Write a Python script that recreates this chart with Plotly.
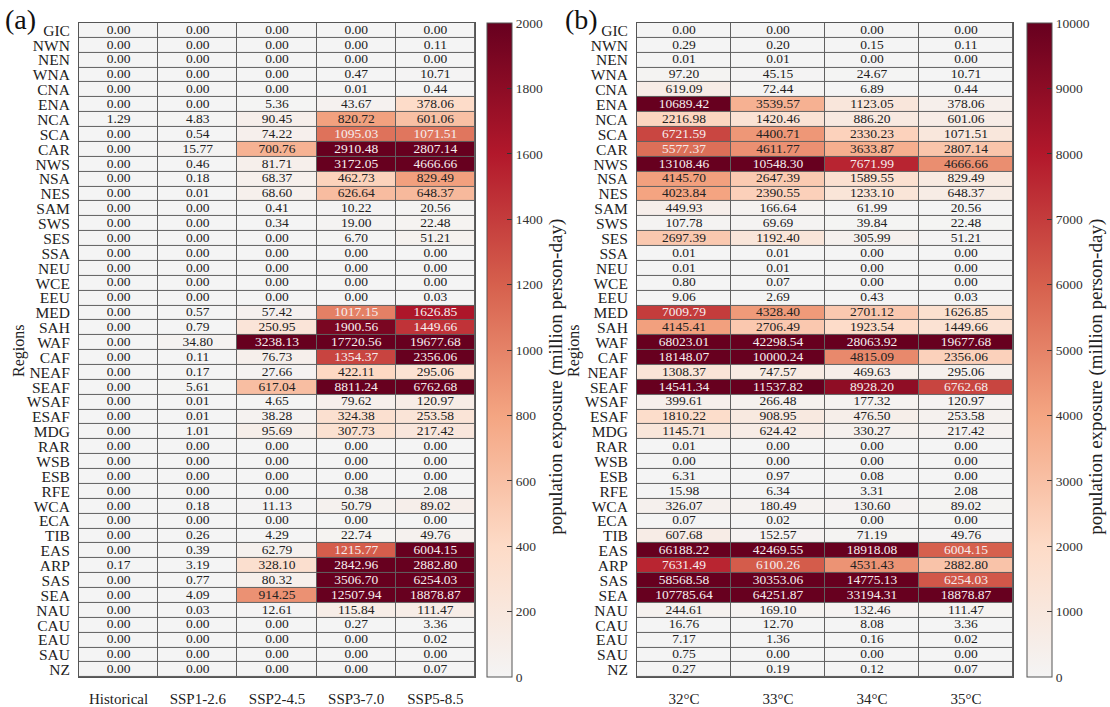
import plotly.graph_objects as go

regions = ["GIC", "NWN", "NEN", "WNA", "CNA", "ENA", "NCA", "SCA", "CAR", "NWS",
           "NSA", "NES", "SAM", "SWS", "SES", "SSA", "NEU", "WCE", "EEU", "MED",
           "SAH", "WAF", "CAF", "NEAF", "SEAF", "WSAF", "ESAF", "MDG", "RAR", "WSB",
           "ESB", "RFE", "WCA", "ECA", "TIB", "EAS", "ARP", "SAS", "SEA", "NAU",
           "CAU", "EAU", "SAU", "NZ"]

scenarios = ["Historical", "SSP1-2.6", "SSP2-4.5", "SSP3-7.0", "SSP5-8.5"]
thresholds = ["32°C", "33°C", "34°C", "35°C"]

# (a) exposure by scenario, one list per scenario column
historical = [0, 0, 0, 0, 0, 0, 1.29, 0, 0, 0,
              0, 0, 0, 0, 0, 0, 0, 0, 0, 0,
              0, 0, 0, 0, 0, 0, 0, 0, 0, 0,
              0, 0, 0, 0, 0, 0, 0.17, 0, 0, 0,
              0, 0, 0, 0]
ssp126 = [0, 0, 0, 0, 0, 0, 4.83, 0.54, 15.77, 0.46,
          0.18, 0.01, 0, 0, 0, 0, 0, 0, 0, 0.57,
          0.79, 34.80, 0.11, 0.17, 5.61, 0.01, 0.01, 1.01, 0, 0,
          0, 0, 0.18, 0, 0.26, 0.39, 3.19, 0.77, 4.09, 0.03,
          0, 0, 0, 0]
ssp245 = [0, 0, 0, 0, 0, 5.36, 90.45, 74.22, 700.76, 81.71,
          68.37, 68.60, 0.41, 0.34, 0, 0, 0, 0, 0, 57.42,
          250.95, 3238.13, 76.73, 27.66, 617.04, 4.65, 38.28, 95.69, 0, 0,
          0, 0, 11.13, 0, 4.29, 62.79, 328.10, 80.32, 914.25, 12.61,
          0, 0, 0, 0]
ssp370 = [0, 0, 0, 0.47, 0.01, 43.67, 820.72, 1095.03, 2910.48, 3172.05,
          462.73, 626.64, 10.22, 19.00, 6.70, 0, 0, 0, 0, 1017.15,
          1900.56, 17720.56, 1354.37, 422.11, 8811.24, 79.62, 324.38, 307.73, 0, 0,
          0, 0.38, 50.79, 0, 22.74, 1215.77, 2842.96, 3506.70, 12507.94, 115.84,
          0.27, 0, 0, 0]
ssp585 = [0, 0.11, 0, 10.71, 0.44, 378.06, 601.06, 1071.51, 2807.14, 4666.66,
          829.49, 648.37, 20.56, 22.48, 51.21, 0, 0, 0, 0.03, 1626.85,
          1449.66, 19677.68, 2356.06, 295.06, 6762.68, 120.97, 253.58, 217.42, 0, 0,
          0, 2.08, 89.02, 0, 49.76, 6004.15, 2882.80, 6254.03, 18878.87, 111.47,
          3.36, 0.02, 0, 0.07]

# (b) exposure by temperature threshold
t32 = [0, 0.29, 0.01, 97.20, 619.09, 10689.42, 2216.98, 6721.59, 5577.37, 13108.46,
       4145.70, 4023.84, 449.93, 107.78, 2697.39, 0.01, 0.01, 0.80, 9.06, 7009.79,
       4145.41, 68023.01, 18148.07, 1308.37, 14541.34, 399.61, 1810.22, 1145.71, 0.01, 0,
       6.31, 15.98, 326.07, 0.07, 607.68, 66188.22, 7631.49, 58568.58, 107785.64, 244.61,
       16.76, 7.17, 0.75, 0.27]
t33 = [0, 0.20, 0.01, 45.15, 72.44, 3539.57, 1420.46, 4400.71, 4611.77, 10548.30,
       2647.39, 2390.55, 166.64, 69.69, 1192.40, 0.01, 0.01, 0.07, 2.69, 4328.40,
       2706.49, 42298.54, 10000.24, 747.57, 11537.82, 266.48, 908.95, 624.42, 0, 0,
       0.97, 6.34, 180.49, 0.02, 152.57, 42469.55, 6100.26, 30353.06, 64251.87, 169.10,
       12.70, 1.36, 0, 0.19]
t34 = [0, 0.15, 0, 24.67, 6.89, 1123.05, 886.20, 2330.23, 3633.87, 7671.99,
       1589.55, 1233.10, 61.99, 39.84, 305.99, 0, 0, 0, 0.43, 2701.12,
       1923.54, 28063.92, 4815.09, 469.63, 8928.20, 177.32, 476.50, 330.27, 0, 0,
       0.08, 3.31, 130.60, 0, 71.19, 18918.08, 4531.43, 14775.13, 33194.31, 132.46,
       8.08, 0.16, 0, 0.12]
t35 = [0, 0.11, 0, 10.71, 0.44, 378.06, 601.06, 1071.51, 2807.14, 4666.66,
       829.49, 648.37, 20.56, 22.48, 51.21, 0, 0, 0, 0.03, 1626.85,
       1449.66, 19677.68, 2356.06, 295.06, 6762.68, 120.97, 253.58, 217.42, 0, 0,
       0, 2.08, 89.02, 0, 49.76, 6004.15, 2882.80, 6254.03, 18878.87, 111.47,
       3.36, 0.02, 0, 0.07]

cbar_ticks_a = [0, 200, 400, 600, 800, 1000, 1200, 1400, 1600, 1800, 2000]
cbar_ticks_b = [0, 1000, 2000, 3000, 4000, 5000, 6000, 7000, 8000, 9000, 10000]

W, H = 1110, 707
SERIF = "Liberation Serif, Times New Roman, serif"
reds = [[0.0, "#f4f4f4"], [0.2, "#fddbc7"], [0.4, "#f4a582"],
        [0.6, "#d6604d"], [0.8, "#b2182b"], [1.0, "#67001f"]]

top_px, bot_px = 22, 680
ydom = [1 - bot_px / H, 1 - top_px / H]
ymid = (ydom[0] + ydom[1]) / 2
panels = [
    dict(cols=scenarios, data=[historical, ssp126, ssp245, ssp370, ssp585],
         zmax=2000, ticks=cbar_ticks_a, x0=79, x1=475, cb=487, title_x=556,
         label="(a)", label_x=3, reg_x=19),
    dict(cols=thresholds, data=[t32, t33, t34, t35],
         zmax=10000, ticks=cbar_ticks_b, x0=637, x1=1013, cb=1027, title_x=1096,
         label="(b)", label_x=563, reg_x=574),
]

fig = go.Figure()
annotations = []
for i, p in enumerate(panels, start=1):
    xa = "x" if i == 1 else f"x{i}"
    ya = "y" if i == 1 else f"y{i}"
    z = [[col[r] for col in p["data"]] for r in range(len(regions))]
    fig.add_trace(go.Heatmap(
        x=p["cols"], y=regions, z=z, zmin=0, zmax=p["zmax"],
        colorscale=reds, xgap=1, ygap=1, xaxis=xa, yaxis=ya,
        hoverinfo="skip",
        colorbar=dict(
            x=p["cb"] / W, xanchor="left", xpad=0, ypad=0,
            y=ymid, yanchor="middle",
            len=ydom[1] - ydom[0], lenmode="fraction",
            thickness=25, thicknessmode="pixels",
            outlinewidth=1, outlinecolor="#555",
            tickvals=p["ticks"], tickformat="d", ticks="inside", ticklen=5,
            tickcolor="#333", tickwidth=1,
            tickfont=dict(family=SERIF, size=13.5, color="#333"),
        ),
    ))
    # cell value labels
    xs, ys, txt, colors = [], [], [], []
    for r, reg in enumerate(regions):
        for c, col in enumerate(p["cols"]):
            v = p["data"][c][r]
            xs.append(col)
            ys.append(reg)
            txt.append(f"{v:.2f}")
            colors.append("#f6eeee" if v > p["zmax"] / 2 else "#222222")
    fig.add_trace(go.Scatter(
        x=xs, y=ys, text=txt, mode="text", xaxis=xa, yaxis=ya,
        textfont=dict(family=SERIF, size=13.5, color=colors),
        hoverinfo="skip", showlegend=False,
    ))
    axis_common = dict(showline=True, mirror=True, linecolor="#555", linewidth=1,
                       showgrid=False, zeroline=False, ticks="",
                       tickmode="linear", tick0=0, dtick=1)
    fig.update_layout(**{
        ("xaxis" if i == 1 else f"xaxis{i}"): dict(
            domain=[p["x0"] / W, p["x1"] / W], anchor=ya,
            categoryorder="array", categoryarray=p["cols"],
            range=[-0.5, len(p["cols"]) - 0.5],
            tickfont=dict(family=SERIF, size=15, color="#222"),
            ticklabelstandoff=8, **axis_common),
        ("yaxis" if i == 1 else f"yaxis{i}"): dict(
            domain=ydom, anchor=xa,
            categoryorder="array", categoryarray=regions,
            range=[len(regions) - 0.5, -0.5],
            tickfont=dict(family=SERIF, size=15.5, color="#222"),
            ticklabelstandoff=5, **axis_common),
    })
    annotations.append(dict(
        text=p["label"], x=p["label_x"] / W, y=1 - 1 / H, xref="paper", yref="paper",
        xanchor="left", yanchor="top", showarrow=False,
        font=dict(family=SERIF, size=28, color="#111")))
    annotations.append(dict(
        text="Regions", x=p["reg_x"] / W, y=1 - 352 / H,
        xref="paper", yref="paper", xanchor="center", yanchor="middle",
        textangle=-90, showarrow=False,
        font=dict(family=SERIF, size=16, color="#222")))
    annotations.append(dict(
        text="population exposure (million person-day)", x=p["title_x"] / W,
        y=1 - 378 / H, xref="paper", yref="paper", xanchor="center",
        yanchor="middle", textangle=-90,
        showarrow=False, font=dict(family=SERIF, size=19, color="#222")))

fig.update_layout(
    width=W, height=H, margin=dict(l=0, r=0, t=0, b=0),
    paper_bgcolor="white", plot_bgcolor="#606060",
    showlegend=False, annotations=annotations,
)

fig.write_html("out.html")
